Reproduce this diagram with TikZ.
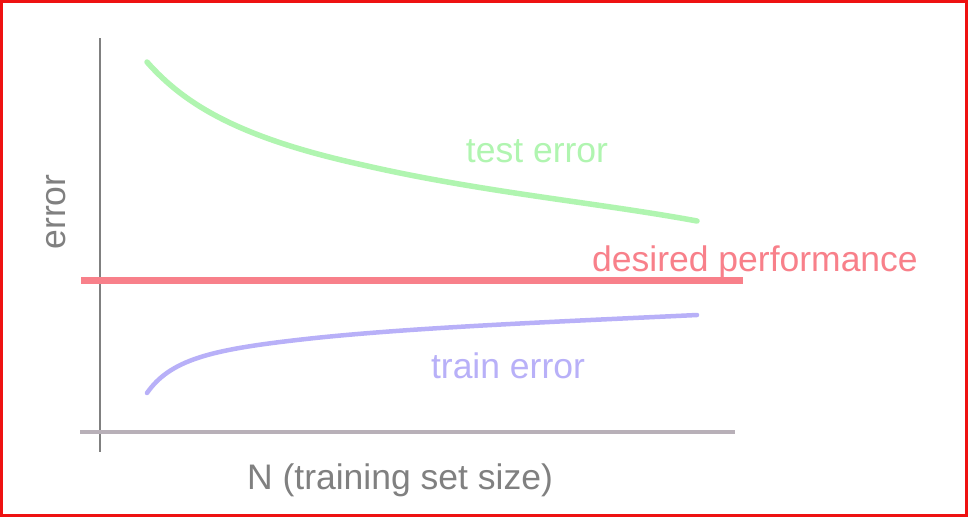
\documentclass[tikz,border=0pt]{standalone}
\usepackage{fontspec}
\setmainfont{Liberation Sans}
\definecolor{axisgray}{HTML}{808080}
\definecolor{axislight}{HTML}{B8B0B8}
\definecolor{testgreen}{HTML}{B0F5B0}
\definecolor{trainblue}{HTML}{B8B0F8}
\definecolor{desred}{HTML}{F8808A}
\definecolor{frame}{HTML}{EE1111}
\tikzset{
  lbl/.style={inner sep=0pt, font=\fontsize{35.5}{38}\selectfont},
}
\begin{document}
\begin{tikzpicture}[x=1pt,y=-1pt]
\useasboundingbox (0,0) rectangle (968,517);
\fill[white] (0,0) rectangle (968,517);
\draw[frame, line width=3pt] (1.5,1.5) rectangle (966.5,515.5);
% axes
\coordinate (vtop) at (100,38);
\coordinate (vbot) at (100,452);
\coordinate (hleft) at (80,432);
\coordinate (hright) at (735,432);
\draw[axisgray, line width=2.5pt] (vtop) -- (vbot);
\draw[axislight, line width=4pt] (hleft) -- (hright);
% desired performance
\coordinate (dl) at (81,280);
\coordinate (dr) at (743,280);
\draw[desred, line width=7pt] (dl) -- (dr);
% curves
\coordinate (g0) at (147,62);
\coordinate (g1) at (363,165);
\coordinate (g2) at (697,221);
\draw[testgreen, line width=5.5pt, line cap=round]
  (g0) .. controls (185,105) and (240,138) .. (g1)
       .. controls (480,192) and (600,203) .. (g2);
\coordinate (b0) at (147,393);
\coordinate (b1) at (297,340);
\coordinate (b2) at (697,315);
\draw[trainblue, line width=4.5pt, line cap=round]
  (b0) .. controls (170,360) and (210,350) .. (b1)
       .. controls (400,328) and (550,322) .. (b2);
% labels
\node[lbl, text=testgreen] (test) at (537,151) {test error};
\node[lbl, text=trainblue] (train) at (508,366) {train error};
\node[lbl, text=desred] (des) at (755,262) {desired performance};
\node[lbl, text=axisgray, rotate=90] (ylab) at (56,212) {error};
\node[lbl, text=axisgray] (xlab) at (400,480) {N (training set size)};
\end{tikzpicture}
\end{document}
